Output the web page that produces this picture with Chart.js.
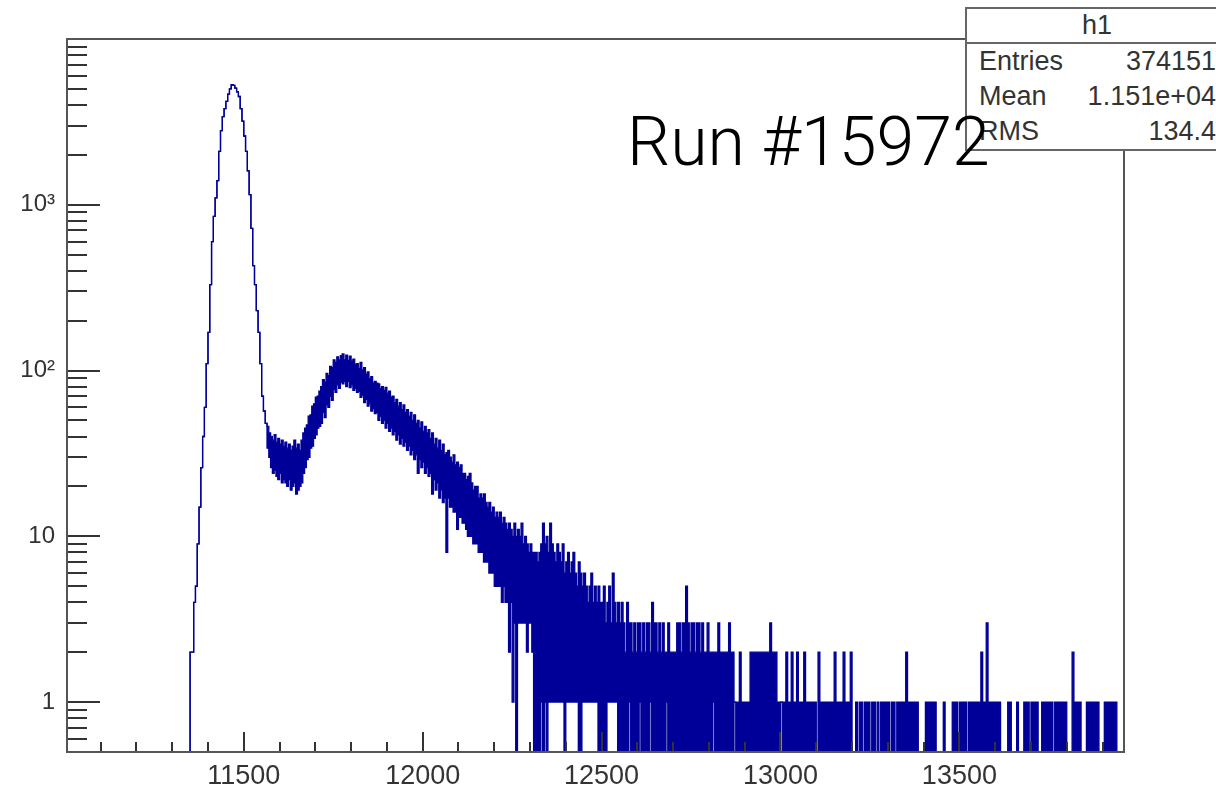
<!DOCTYPE html>
<html>
<head>
<meta charset="utf-8">
<title>h1</title>
<script src="https://cdn.jsdelivr.net/npm/chart.js@4.4.1/dist/chart.umd.min.js"></script>
<style>
  html, body { margin: 0; padding: 0; background: #fff; overflow: hidden; }
  #wrap { position: relative; width: 1216px; height: 791px; }
  #stats {
    position: absolute; left: 965px; top: 7px; width: 264px;
    box-sizing: border-box; border: 2px solid #666; background: #fff;
    font: 27px "Liberation Sans", Arial, sans-serif; color: #333;
  }
  #stats .hd { height: 33px; line-height: 33px; text-align: center; border-bottom: 2px solid #666; }
  #stats .row { height: 35px; line-height: 35px; display: flex; justify-content: space-between; padding: 0 11px 0 12px; }
  #run {
    position: absolute; left: 627px; top: 108px; white-space: nowrap;
    font: 300 68px Roboto, "Liberation Sans", sans-serif; line-height: 68px; color: #000;
  }
</style>
</head>
<body>
<div id="wrap">
  <canvas id="hist" width="1216" height="791"></canvas>
  <div id="stats">
    <div class="hd">h1</div>
    <div class="row"><span>Entries</span><span>374151</span></div>
    <div class="row"><span>Mean</span><span>1.151e+04</span></div>
    <div class="row"><span>RMS</span><span>134.4</span></div>
  </div>
  <div id="run">Run #15972</div>
</div>
<script>
// histogram, 5-unit bins starting at 11350
const xStart = 11350;
const binWidth = 5;

// sharp peak, 11350 - 11560
const peakCounts = [
  2, 2, 4, 5, 9, 15, 26, 40, 60, 110,
  170, 330, 600, 850, 1100, 1400, 2100, 2800, 3400, 3800,
  4200, 4650, 5000, 5300, 5250, 5050, 4800, 4500, 3800, 3200,
  2600, 2100, 1600, 1150, 720, 430, 330, 230, 170, 110,
  70, 57, 48
];

// noisy part, 11565 - 13195: top and bottom of the band in each bin
const bandHigh = [
  46, 42, 40, 38, 41, 37, 39, 36, 38, 35,        // 11565
  37, 34, 36, 33, 35, 38, 34, 36, 33, 38,        // 11615
  42, 45, 47, 53, 54, 61, 63, 69, 70, 75,        // 11665
  80, 88, 85, 96, 93, 106, 104, 116, 112, 121,   // 11715
  116, 123, 126, 116, 124, 115, 122, 114, 117, 109, // 11765
  110, 103, 112, 101, 104, 95, 98, 89, 92, 84,   // 11815
  86, 84, 83, 78, 80, 76, 79, 73, 75, 69,        // 11865
  70, 64, 67, 61, 64, 58, 62, 56, 58, 53,        // 11915
  56, 50, 54, 48, 50, 45, 49, 43, 46, 42,        // 11965
  44, 39, 42, 36, 39, 34, 38, 33, 36, 31,        // 12015
  32, 33, 30, 28, 31, 27, 28, 26, 27, 24,        // 12065
  24, 22, 23, 24, 21, 19, 20, 20, 17, 18,        // 12115
  17, 18, 16, 15, 16, 14, 15, 13, 14, 13,        // 12165
  14, 12, 13, 12, 11, 12, 11, 10, 12, 10,        // 12215
  11, 10, 12, 9, 10, 9, 8, 9, 8, 8,              // 12265
  8, 7, 8, 9, 12, 9, 10, 8, 12, 9,               // 12315
  8, 7, 9, 8, 7, 9, 6, 7, 8, 6,                  // 12365
  7, 8, 6, 5, 7, 6, 5, 6, 5, 4,                  // 12415
  5, 6, 4, 5, 4, 5, 4,                           // 12465
  4, 5, 3, 4, 5, 3, 6, 4, 3, 4,                  // 12500
  3, 4, 3, 2, 4, 3, 3, 2, 3, 2,                  // 12550
  3, 3, 2, 3, 2, 3, 3, 2, 4, 3,                  // 12600
  3, 2, 3, 2, 3, 2, 2, 3, 2, 2,                  // 12650
  2, 2, 3, 3, 2, 3, 3, 5, 3, 2,                  // 12700
  3, 3, 2, 3, 3, 2, 3, 2, 2, 3,                  // 12750
  2, 2, 2, 2, 2, 3, 2, 2, 2, 2,                  // 12800
  2, 3, 2, 2, 1, 1, 1, 2, 1, 1,                  // 12850
  1, 1, 1, 2, 2, 2, 2, 2, 2, 2,                  // 12900
  2, 2, 2, 2, 3, 2, 2, 2, 1, 1,                  // 12950
  1, 1, 1, 2, 1, 1, 2, 1, 1, 2,                  // 13000
  1, 1, 1, 2, 1, 1, 1, 1, 1, 1,                  // 13050
  0, 2, 1, 1, 1, 1, 1, 1, 1, 1,                  // 13100
  2, 1, 1, 1, 1, 2, 1, 1, 1, 2                   // 13150
];
const bandLow = [
  34, 30, 26, 24, 25, 23, 22, 24, 21, 22,        // 11565
  21, 20, 22, 19, 20, 21, 18, 19, 20, 21,        // 11615
  24, 26, 29, 30, 34, 35, 39, 41, 45, 46,        // 11665
  48, 56, 52, 62, 60, 70, 66, 77, 74, 82,        // 11715
  78, 85, 83, 86, 80, 86, 79, 82, 76, 78,        // 11765
  74, 75, 69, 71, 64, 67, 61, 63, 57, 59,        // 11815
  55, 56, 50, 53, 48, 50, 45, 48, 43, 45,        // 11865
  41, 43, 38, 41, 36, 39, 35, 37, 33, 35,        // 11915
  31, 33, 29, 31, 24, 29, 26, 28, 24, 26,        // 11965
  23, 24, 18, 22, 19, 21, 17, 19, 16, 17,        // 12015
  8, 17, 15, 15, 14, 14, 11, 13, 13, 12,         // 12065
  12, 11, 10, 10, 10, 9, 9, 9, 8, 8,             // 12115
  8, 7, 7, 7, 6, 6, 6, 5, 5, 5,                  // 12165
  5, 4, 5, 4, 4, 2, 4, 1, 3, 0,                  // 12215
  3, 3, 3, 3, 3, 2, 3, 3, 2, 0,                  // 12265
  0, 0, 0, 1, 0, 1, 0, 1, 1, 1,                  // 12315
  1, 1, 1, 1, 1, 1, 0, 1, 1, 1,                  // 12365
  1, 1, 1, 1, 0, 0, 1, 1, 1, 1,                  // 12415
  1, 1, 1, 1, 1, 0, 0,                           // 12465
  0, 0, 0, 1, 1, 1, 1, 1, 1, 0,                  // 12500
  0, 0, 0, 0, 0, 1, 0, 0, 0, 0,                  // 12550
  0, 1, 0, 0, 0, 0, 0, 1, 0, 0,                  // 12600
  0, 0, 0, 0, 0, 0, 1, 0, 0, 0,                  // 12650
  0, 0, 0, 0, 0, 0, 0, 0, 0, 0,                  // 12700
  0, 0, 0, 0, 0, 0, 0, 0, 0, 0,                  // 12750
  0, 0, 1, 0, 0, 0, 0, 0, 0, 0,                  // 12800
  0, 0, 0, 0, 1, 0, 0, 0, 0, 0,                  // 12850
  0, 0, 0, 0, 0, 0, 0, 0, 0, 0,                  // 12900
  0, 0, 0, 0, 0, 0, 0, 0, 0, 0,                  // 12950
  1, 0, 0, 0, 0, 0, 0, 0, 0, 0,                  // 13000
  0, 0, 0, 0, 0, 0, 0, 0, 0, 0,                  // 13050
  0, 0, 0, 0, 0, 0, 0, 0, 0, 0,                  // 13100
  0, 0, 0, 0, 0, 0, 0, 0, 0, 0                   // 13150
];

// sparse tail, 13200 - 13945
const tailCounts = [
  0, 0, 1, 0, 1, 1, 0, 1, 1, 1,   // 13200
  0, 1, 1, 0, 1, 0, 1, 1, 1, 1,   // 13250
  1, 0, 1, 1, 0, 1, 1, 1, 1, 1,   // 13300
  2, 1, 1, 1, 1, 1, 1, 0, 0, 0,   // 13350
  0, 1, 1, 1, 1, 1, 1, 0, 0, 0,   // 13400
  0, 1, 0, 0, 0, 0, 1, 1, 1, 0,   // 13450
  1, 1, 1, 1, 0, 1, 1, 1, 1, 1,   // 13500
  1, 1, 2, 1, 1, 3, 1, 1, 1, 1,   // 13550
  1, 1, 1, 0, 0, 0, 0, 1, 1, 0,   // 13600
  0, 0, 1, 0, 0, 0, 1, 1, 1, 0,   // 13650
  1, 1, 1, 1, 0, 0, 1, 1, 1, 1,   // 13700
  1, 1, 0, 1, 1, 1, 1, 1, 1, 1,   // 13750
  0, 0, 0, 2, 1, 1, 1, 1, 0, 0,   // 13800
  0, 1, 1, 1, 1, 1, 1, 1, 0, 0,   // 13850
  0, 1, 1, 1, 1, 1, 1, 1, 0, 0    // 13900
];

const xTickLabels = [11500, 12000, 12500, 13000, 13500];
const yTickLabels = [1, 10, 100, 1000];

const FLOOR = 0.3; // empty bins drop below the 0.5 axis floor
const shown = v => (v > 0 ? v : FLOOR);

const hiPts = [{x: xStart, y: FLOOR}];
const loPts = [{x: xStart, y: FLOOR}];
let edge = xStart;
function addBin(hi, lo) {
  hiPts.push({x: edge, y: shown(hi)});
  loPts.push({x: edge, y: shown(lo)});
  edge += binWidth;
}
peakCounts.forEach(v => addBin(v, v));
bandHigh.forEach((v, i) => addBin(v, bandLow[i]));
tailCounts.forEach(v => addBin(v, 0));
hiPts.push({x: edge, y: FLOOR});
loPts.push({x: edge, y: FLOOR});

const histColor = '#000099';
const superscripts = {2: '\u00b2', 3: '\u00b3'};

// ROOT style frame with ticks pointing into the pad
const rootAxes = {
  id: 'rootAxes',
  afterDatasetsDraw(chart) {
    const {ctx, chartArea: a, scales: {x, y}} = chart;
    ctx.save();
    ctx.strokeStyle = '#333';
    ctx.lineWidth = 2;
    ctx.beginPath();
    for (let e = -1; e <= 3; e++) {
      for (let k = 1; k <= 9; k++) {
        const v = k * Math.pow(10, e);
        if (v <= y.min || v >= y.max) continue;
        const py = Math.round(y.getPixelForValue(v));
        ctx.moveTo(a.left, py);
        ctx.lineTo(a.left + (k === 1 ? 33 : 20), py);
      }
    }
    for (let v = 11100; v <= 13900; v += 100) {
      const px = Math.round(x.getPixelForValue(v));
      ctx.moveTo(px, a.bottom);
      ctx.lineTo(px, a.bottom - (v % 500 === 0 ? 20 : 10));
    }
    ctx.stroke();
    ctx.strokeStyle = '#555';
    ctx.strokeRect(a.left, a.top, a.right - a.left, a.bottom - a.top);
    ctx.restore();
  }
};

new Chart(document.getElementById('hist'), {
  type: 'line',
  data: {
    datasets: [
      {
        label: 'h1',
        data: hiPts,
        stepped: true,
        borderColor: histColor,
        borderWidth: 1.3,
        pointRadius: 0,
        fill: false
      },
      {
        label: 'h1 low',
        data: loPts,
        stepped: true,
        borderColor: histColor,
        borderWidth: 1.3,
        pointRadius: 0,
        backgroundColor: histColor,
        fill: '-1'
      }
    ]
  },
  options: {
    responsive: false,
    devicePixelRatio: 1,
    animation: false,
    layout: { padding: { left: 0, top: 39, right: 92, bottom: 0 } },
    plugins: { legend: { display: false }, tooltip: { enabled: false } },
    scales: {
      x: {
        type: 'linear',
        min: 11006,
        max: 13960,
        grid: { display: false, drawTicks: false },
        border: { display: false },
        afterBuildTicks: s => { s.ticks = xTickLabels.map(v => ({value: v})); },
        afterFit: s => { s.height = 39; },
        ticks: {
          autoSkip: false,
          maxRotation: 0,
          padding: 8,
          color: '#333',
          font: { family: '"Liberation Sans", Arial, sans-serif', size: 27 },
          callback: v => String(v)
        }
      },
      y: {
        type: 'logarithmic',
        min: 0.5,
        max: 10000,
        grid: { display: false, drawTicks: false },
        border: { display: false },
        afterBuildTicks: s => { s.ticks = yTickLabels.map(v => ({value: v})); },
        afterFit: s => { s.width = 67; },
        ticks: {
          padding: 12,
          color: '#333',
          font: { family: '"Liberation Sans", Arial, sans-serif', size: 24 },
          callback: v => {
            const e = Math.round(Math.log10(v));
            return e < 2 ? String(v) : '10' + superscripts[e];
          }
        }
      }
    }
  },
  plugins: [rootAxes]
});
</script>
</body>
</html>
